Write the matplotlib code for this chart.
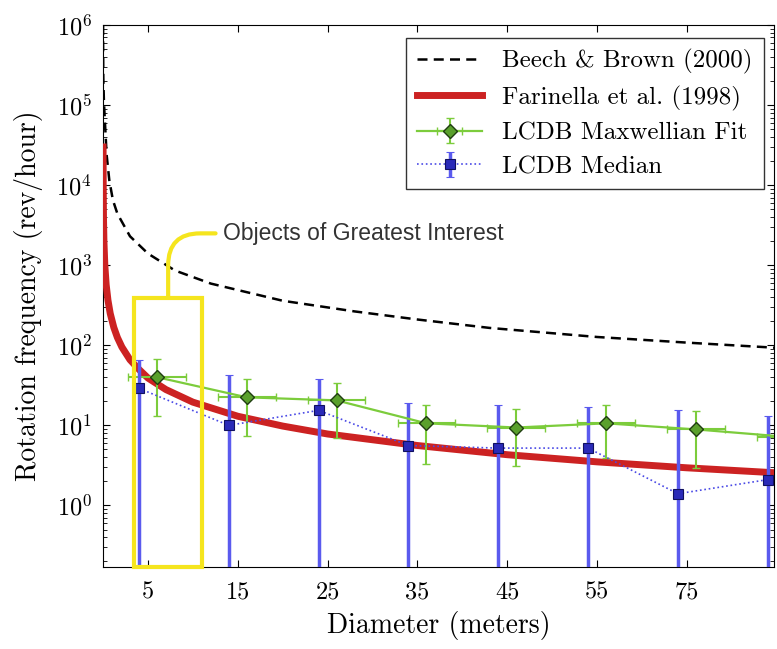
import matplotlib
matplotlib.use('Agg')
import matplotlib.pyplot as plt
from matplotlib.patches import Rectangle

# Fonts: LaTeX-like look
plt.rcParams['font.family'] = 'serif'
plt.rcParams['font.serif'] = ['cmr10']
plt.rcParams['mathtext.fontset'] = 'cm'
plt.rcParams['axes.formatter.use_mathtext'] = True

# Model curves
beech_d = [0.007, 0.01, 0.03, 0.1, 0.2, 0.4, 0.7, 1.1, 1.6, 3, 5, 8, 12, 20, 28, 35, 43, 55, 65, 75]
beech_f = [1.0e6, 5.5e5, 2.2e5, 1.1e5, 6.5e4, 2.4e4, 1.15e4, 6500, 4400, 2300, 1400, 860, 590, 360, 265, 210, 165, 127, 108, 93]

farinella_d = [0.0066, 0.01, 0.02, 0.05, 0.1, 0.2, 0.35, 0.55, 0.8, 1.2, 1.6, 2.1, 3, 4, 5, 7, 10, 15, 20, 25, 35, 45, 55, 65, 75]
farinella_f = [30000, 20000, 10000, 4000, 2000, 1000, 570, 365, 250, 167, 125, 95, 66, 50, 39, 28, 19.5, 13, 9.8, 7.8, 5.6, 4.3, 3.5, 2.95, 2.55]

# LCDB Maxwellian fit
maxw_d = [6, 16, 26, 36, 46, 56, 66, 76]
maxw_f = [40, 22.4, 20.5, 10.6, 9.4, 10.6, 8.9, 7.2]
maxw_hi = [67, 38, 33.5, 18, 15.8, 18, 15, 13]
maxw_lo = [13, 7.3, 6.9, 3.3, 3.1, 3.9, 2.9, 2.6]
maxw_dx = [3.2, 3.2, 3.2, 3.2, 3.2, 3.2, 3.2, 3.2]

# LCDB median
med_d = [4, 14, 24, 34, 44, 54, 64, 74]
med_f = [29, 10, 15.4, 5.6, 5.2, 5.2, 1.4, 2.1]
med_hi = [65, 43, 38, 19, 18, 17, 15.5, 13]
med_lo = [0.01, 0.01, 0.01, 0.01, 0.01, 0.01, 0.01, 0.01]

xticks = [5, 15, 25, 35, 45, 55, 65]
xtick_labels = ['5', '15', '25', '35', '45', '55', '75']
yticks = [1e0, 1e1, 1e2, 1e3, 1e4, 1e5, 1e6]

# highlighted region
box_d = (3.5, 11.0)
box_top = 390
yellow = '#f5e51e'

fig = plt.figure(figsize=(7.77, 6.49), dpi=100)
ax = fig.add_axes([0.1326, 0.1263, 0.8636, 0.8351])

ax.plot(beech_d, beech_f, 'k--', lw=1.8, dashes=(4, 2.5), label='Beech & Brown (2000)')
ax.plot(farinella_d, farinella_f, color='#cc2222', lw=5, label='Farinella et al. (1998)', zorder=3)

# error bars
yerr_m = [[f - l for f, l in zip(maxw_f, maxw_lo)], [h - f for f, h in zip(maxw_f, maxw_hi)]]
ax.errorbar(maxw_d, maxw_f, yerr=yerr_m, xerr=maxw_dx, fmt='-D', color='#7ccc3c',
            ecolor='#7ccc3c', elinewidth=1.5, capsize=3, lw=1.6, ms=7.5,
            mfc='#5aa02c', mec='#1f3d10', mew=1, label='LCDB Maxwellian Fit', zorder=4)

yerr_b = [[f - l for f, l in zip(med_f, med_lo)], [h - f for f, h in zip(med_f, med_hi)]]
ax.errorbar(med_d, med_f, yerr=yerr_b, fmt=':s', color='#4a4ae6', ecolor='#5a5aee',
            elinewidth=2.5, capsize=3, lw=1.2, ms=6.5, mfc='#2a2ab8', mec='#101060',
            mew=0.8, label='LCDB Median', zorder=4)

ax.set_yscale('log')
ax.set_xlim(0, 74.7)
ax.set_ylim(0.17, 1e6)
ax.set_yticks(yticks)
ax.set_xticks(xticks)
ax.set_xticklabels(xtick_labels)
ax.tick_params(which='both', direction='in', top=True, right=True, labelsize=17.5)
ax.tick_params(axis='x', pad=10)
ax.tick_params(axis='y', pad=8)
ax.tick_params(which='major', length=5)
ax.tick_params(which='minor', length=3)

ax.set_xlabel('Diameter (meters)', fontsize=20, labelpad=6)
ax.set_ylabel('Rotation frequency (rev/hour)', fontsize=20, labelpad=10)

# yellow box and callout
rect = Rectangle((box_d[0], 0.17), box_d[1] - box_d[0], box_top - 0.17, fill=False,
                 edgecolor=yellow, lw=3, zorder=5, clip_on=False)
ax.add_patch(rect)
ax.annotate('Objects of Greatest Interest', xy=((box_d[0] + box_d[1]) / 2, box_top),
            xytext=(13.3, 2500), ha='left', va='center', fontsize=16.5,
            family='Liberation Sans', color='#333333',
            arrowprops=dict(arrowstyle='-', color=yellow, lw=3, shrinkA=3, shrinkB=0,
                            connectionstyle='angle,angleA=0,angleB=90,rad=32'))

leg = ax.legend(loc='upper right', bbox_to_anchor=(0.985, 0.976), borderaxespad=0,
                fancybox=False, edgecolor='black', fontsize=18, handlelength=2.6,
                handletextpad=0.8, labelspacing=0.45, borderpad=0.45)
leg.get_frame().set_linewidth(1.0)

fig.savefig('out.png', dpi=100)
